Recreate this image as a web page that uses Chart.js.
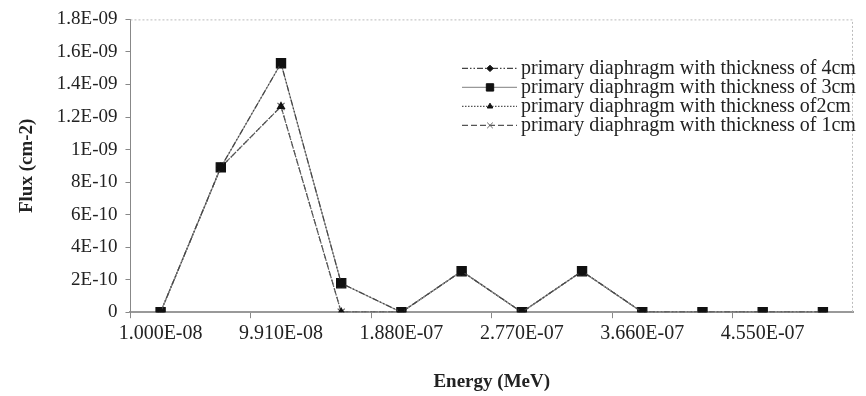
<!DOCTYPE html>
<html>
<head>
<meta charset="utf-8">
<script src="https://cdn.jsdelivr.net/npm/chart.js@4"></script>
<style>
  html, body { margin: 0; padding: 0; background: #fff; }
  #wrap { width: 866px; height: 396px; }
</style>
</head>
<body>
<div id="wrap"><canvas id="fluxChart"></canvas></div>
<script>
'use strict';

// energies (MeV) for each category on the x axis
const energies = [1.0e-8, 5.455e-8, 9.91e-8, 1.4365e-7, 1.88e-7, 2.3255e-7, 2.77e-7, 3.2145e-7, 3.66e-7, 4.1055e-7, 4.55e-7, 4.9955e-7];

// flux (cm-2) per diaphragm thickness
const flux4cm = [0, 8.9e-10, 1.53e-9, 1.78e-10, 0, 2.52e-10, 0, 2.52e-10, 0, 0, 0, 0];
const flux3cm = [0, 8.9e-10, 1.53e-9, 1.78e-10, 0, 2.52e-10, 0, 2.52e-10, 0, 0, 0, 0];
const flux2cm = [0, 8.9e-10, 1.265e-9, 0, 0, 2.52e-10, 0, 2.52e-10, 0, 0, 0, 0];
const flux1cm = [0, 8.9e-10, 1.265e-9, 0, 0, 2.52e-10, 0, 2.52e-10, 0, 0, 0, 0];

const seriesNames = [
  'primary diaphragm with thickness of 4cm',
  'primary diaphragm with thickness of 3cm',
  'primary diaphragm with thickness of2cm',
  'primary diaphragm with thickness of 1cm',
];

const FONT = "'Liberation Serif', 'Times New Roman', serif";
const TEXT = '#222';

// excel style scientific numbers: 1.8E-09, 1.000E-08, 0
function excelSci(v, digits) {
  if (v === 0) return '0';
  const s = digits === undefined ? Number(v.toPrecision(6)).toExponential() : v.toExponential(digits);
  const parts = s.split('e');
  const exp = parseInt(parts[1], 10);
  return parts[0] + 'E' + (exp < 0 ? '-' : '+') + String(Math.abs(exp)).padStart(2, '0');
}

// dotted frame on top and right of the plot area
const framePlugin = {
  id: 'frame',
  beforeDatasetsDraw(chart) {
    const { ctx, chartArea: a } = chart;
    ctx.save();
    ctx.strokeStyle = '#bbb';
    ctx.lineWidth = 1;
    ctx.setLineDash([2, 2]);
    ctx.beginPath();
    ctx.moveTo(a.left, a.top + 0.5);
    ctx.lineTo(a.right - 0.5, a.top + 0.5);
    ctx.lineTo(a.right - 0.5, a.bottom);
    ctx.stroke();
    ctx.restore();
  },
};

// legend drawn inside the plot area, top right
const innerLegend = {
  id: 'innerLegend',
  afterDatasetsDraw(chart) {
    const { ctx, chartArea: a } = chart;
    const x0 = a.right - 391;
    const y0 = a.top + 49;
    const rowH = 19;
    ctx.save();
    chart.data.datasets.forEach((ds, i) => {
      const y = y0 + i * rowH;
      ctx.strokeStyle = ds.borderColor;
      ctx.lineWidth = ds.borderWidth;
      ctx.setLineDash(ds.borderDash || []);
      ctx.beginPath();
      ctx.moveTo(x0, y);
      ctx.lineTo(x0 + 55, y);
      ctx.stroke();
      ctx.setLineDash([]);
      ctx.fillStyle = ds.pointBackgroundColor;
      ctx.strokeStyle = ds.pointBorderColor;
      ctx.lineWidth = 1;
      Chart.helpers.drawPoint(ctx, {
        pointStyle: ds.pointStyle,
        radius: ds.pointRadius * 0.8,
        rotation: 0,
        borderWidth: 1,
      }, x0 + 28, y);
      ctx.fillStyle = TEXT;
      ctx.font = '20px ' + FONT;
      ctx.textBaseline = 'middle';
      ctx.textAlign = 'left';
      ctx.fillText(ds.label, x0 + 59, y);
    });
    ctx.restore();
  },
};

const ctx = document.getElementById('fluxChart');

const fluxChart = new Chart(ctx, {
  type: 'line',
  data: {
    labels: energies,
    datasets: [
      {
        label: seriesNames[0],
        data: flux4cm,
        borderColor: '#444',
        borderWidth: 1.2,
        borderDash: [6, 2, 1.5, 2, 1.5, 2],
        pointStyle: 'rectRot',
        pointRadius: 4,
        pointBackgroundColor: '#111',
        pointBorderColor: '#111',
      },
      {
        label: seriesNames[1],
        data: flux3cm,
        borderColor: '#999',
        borderWidth: 1.2,
        pointStyle: 'rect',
        pointRadius: 6.5,
        pointBackgroundColor: '#111',
        pointBorderColor: '#111',
      },
      {
        label: seriesNames[2],
        data: flux2cm,
        borderColor: '#555',
        borderWidth: 1.2,
        borderDash: [1.5, 1.5],
        pointStyle: 'triangle',
        pointRadius: 4,
        pointBackgroundColor: '#111',
        pointBorderColor: '#111',
      },
      {
        label: seriesNames[3],
        data: flux1cm,
        borderColor: '#555',
        borderWidth: 1.2,
        borderDash: [6, 3],
        pointStyle: 'crossRot',
        pointRadius: 5,
        pointBackgroundColor: '#666',
        pointBorderColor: '#666',
      },
    ],
  },
  options: {
    responsive: true,
    maintainAspectRatio: false,
    animation: false,
    elements: {
      line: { tension: 0 },
    },
    layout: {
      padding: { top: 6, right: 13, left: 16, bottom: 3 },
    },
    plugins: {
      legend: { display: false },
      tooltip: { enabled: false },
    },
    scales: {
      x: {
        type: 'category',
        offset: true,
        grid: {
          offset: true,
          drawOnChartArea: false,
          tickLength: 6,
          color: (c) => (c.index % 2 === 0 ? '#888' : 'rgba(0,0,0,0)'),
        },
        border: { color: '#999', width: 2 },
        ticks: {
          autoSkip: false,
          maxRotation: 0,
          padding: 4,
          color: TEXT,
          font: { family: FONT, size: 20 },
          callback: (val, i) => (i % 2 === 0 ? excelSci(energies[i], 3) : ''),
        },
        title: {
          display: true,
          text: 'Energy (MeV)',
          color: TEXT,
          font: { family: FONT, size: 19, weight: 'bold' },
          padding: { top: 20, bottom: 0 },
        },
      },
      y: {
        min: 0,
        max: 1.8e-9,
        grid: {
          drawOnChartArea: false,
          tickLength: 5,
          color: '#888',
        },
        border: { color: '#888', width: 1 },
        ticks: {
          stepSize: 2e-10,
          padding: 8,
          color: TEXT,
          font: { family: FONT, size: 19 },
          callback: (v) => excelSci(v),
        },
        title: {
          display: true,
          text: 'Flux (cm-2)',
          color: TEXT,
          font: { family: FONT, size: 19, weight: 'bold' },
          padding: { top: 0, bottom: 10 },
        },
      },
    },
  },
  plugins: [framePlugin, innerLegend],
});
</script>
</body>
</html>
